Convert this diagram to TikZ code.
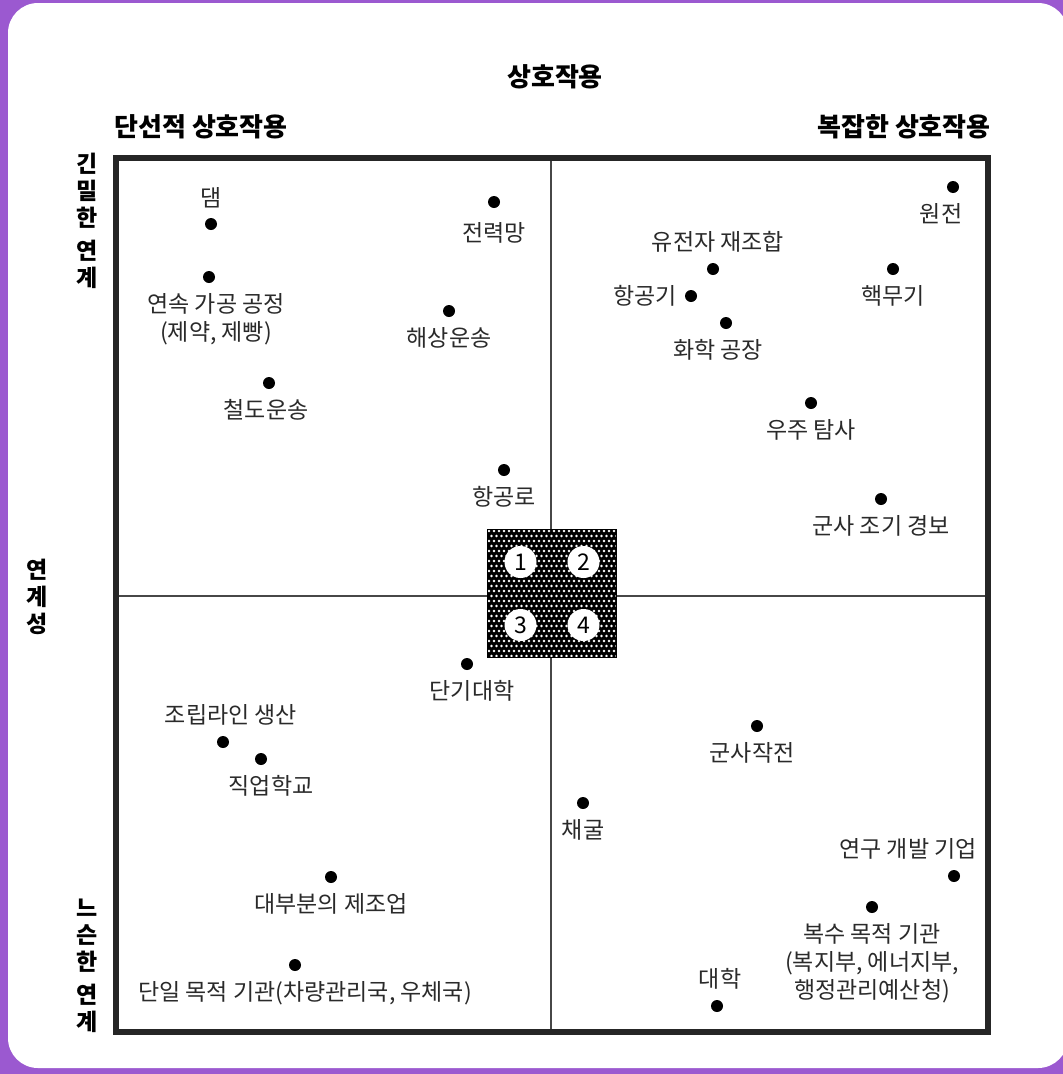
\documentclass[tikz,border=0pt]{standalone}
\usepackage{fontspec}
\setmainfont{Noto Sans CJK KR}
\usetikzlibrary{positioning}
\definecolor{bgpurple}{HTML}{9B59D0}
\definecolor{inkdark}{HTML}{262626}
\definecolor{inkgray}{HTML}{2a2a2a}
\tikzset{
  orgdot/.style  = {circle, fill=black, inner sep=0pt, minimum size=12pt},
  orglbl/.style  = {inner sep=0pt, align=center, text=inkgray,
                    font=\fontsize{23}{28}\selectfont},
  ttl/.style     = {inner sep=0pt, text=black, font=\fontsize{26}{30}\selectfont\bfseries},
  sidelbl/.style = {inner sep=0pt, align=center, text=black,
                    font=\fontsize{23}{27}\selectfont\bfseries},
  numcirc/.style = {circle, fill=white, inner sep=0pt, minimum size=32pt,
                    font=\fontsize{23}{23}\selectfont},
}

\begin{document}
\begin{tikzpicture}[x=1pt, y=-1pt, node distance=10pt]
\useasboundingbox (0,0) rectangle (1063,1074);
% card
\fill[bgpurple] (0,0) rectangle (1063,1074);
\fill[white, rounded corners=30pt] (8,3) rectangle (1068,1068);

% headings
\node[ttl] (title)   at (555,77)  {상호작용};
\node[ttl] (linear)  at (201,127) {단선적 상호작용};
\node[ttl] (complex) at (904,127) {복잡한 상호작용};
\node[sidelbl] (tight)    at (87,221) {긴\\밀\\한\\[6pt]연\\계};
\node[sidelbl] (coupling) at (37,597) {연\\계\\성};
\node[sidelbl] (loose)    at (87,966) {느\\슨\\한\\[6pt]연\\계};

% frame and quadrant axes
\coordinate (vtop) at (551,158);
\coordinate (vbot) at (551,1032);
\coordinate (hlft) at (116,596);
\coordinate (hrgt) at (988,596);
\draw[inkdark!85, line width=1.5pt] (vtop) -- (vbot);
\draw[inkdark!85, line width=1.5pt] (hlft) -- (hrgt);
\draw[inkdark, line width=6pt] (116,158) rectangle (988,1032);

% centre block
\node[fill=black, inner sep=0pt, minimum width=128pt, minimum height=127pt] (core) at (552,593.5) {};
\begin{scope}
  \clip (core.north west) rectangle (core.south east);
  \foreach \r in {0,...,26} {
    \foreach \c in {0,...,26} {
      \pgfmathsetmacro{\xx}{489 + 5*\c + 2.5*mod(\r,2)}
      \pgfmathsetmacro{\yy}{531 + 5*\r}
      \fill[white] (\xx,\yy) circle (1.4pt);
    }
  }
\end{scope}
\draw[black, line width=1pt] (core.north west) rectangle (core.south east);
\node[numcirc] (n1) at (520.5,562) {1};
\node[numcirc] (n2) at (583.5,562) {2};
\node[numcirc] (n3) at (520.5,625) {3};
\node[numcirc] (n4) at (583.5,625) {4};

% linear, tight
\node[orgdot] (dam) at (211,224) {};
\node[orglbl, above=of dam] (dam-l) {댐};
\node[orgdot] (proc) at (209,277) {};
\node[orglbl, below=of proc, xshift=7pt] (proc-l) {연속 가공 공정\\(제약, 제빵)};
\node[orgdot] (rail) at (269,383) {};
\node[orglbl, below=of rail, xshift=-3pt] (rail-l) {철도운송};
\node[orgdot] (grid) at (494,202) {};
\node[orglbl, below=14pt of grid] (grid-l) {전력망};
\node[orgdot] (ship) at (449,311) {};
\node[orglbl, below=of ship] (ship-l) {해상운송};
\node[orgdot] (airway) at (504,470) {};
\node[orglbl, below=of airway] (airway-l) {항공로};

% complex, tight
\node[orgdot] (npp) at (953,187) {};
\node[orglbl, below=of npp, xshift=-12pt] (npp-l) {원전};
\node[orgdot] (gene) at (713,269) {};
\node[orglbl, above=of gene, xshift=5pt] (gene-l) {유전자 재조합};
\node[orgdot] (plane) at (691,296) {};
\node[orglbl, left=8pt of plane] (plane-l) {항공기};
\node[orgdot] (chem) at (726,323) {};
\node[orglbl, below=of chem, xshift=-8pt] (chem-l) {화학 공장};
\node[orgdot] (nuke) at (893,269) {};
\node[orglbl, below=of nuke] (nuke-l) {핵무기};
\node[orgdot] (space) at (811,403) {};
\node[orglbl, below=of space] (space-l) {우주 탐사};
\node[orgdot] (warn) at (881,499) {};
\node[orglbl, below=of warn] (warn-l) {군사 조기 경보};

% linear, loose
\node[orgdot] (college) at (467,664) {};
\node[orglbl, below=of college, xshift=5pt] (college-l) {단기대학};
\node[orgdot] (assembly) at (223,742) {};
\node[orglbl, above=of assembly, xshift=8pt] (assembly-l) {조립라인 생산};
\node[orgdot] (vocat) at (261,759) {};
\node[orglbl, below=of vocat, xshift=10pt] (vocat-l) {직업학교};
\node[orgdot] (manuf) at (331,877) {};
\node[orglbl, below=of manuf] (manuf-l) {대부분의 제조업};
\node[orgdot] (single) at (295,965) {};
\node[orglbl, below=of single, xshift=10pt] (single-l) {단일 목적 기관(차량관리국, 우체국)};

% complex, loose
\node[orgdot] (milop) at (757,726) {};
\node[orglbl, below=of milop, xshift=-5pt] (milop-l) {군사작전};
\node[orgdot] (mining) at (583,803) {};
\node[orglbl, below=of mining] (mining-l) {채굴};
\node[orgdot] (rnd) at (954,876) {};
\node[orglbl, above=of rnd, xshift=-46pt] (rnd-l) {연구 개발 기업};
\node[orgdot] (multi) at (872,907) {};
\node[orglbl, below=of multi] (multi-l) {복수 목적 기관\\(복지부, 에너지부,\\행정관리예산청)};
\node[orgdot] (univ) at (717,1006) {};
\node[orglbl, above=of univ, xshift=3pt] (univ-l) {대학};
\end{tikzpicture}
\end{document}
